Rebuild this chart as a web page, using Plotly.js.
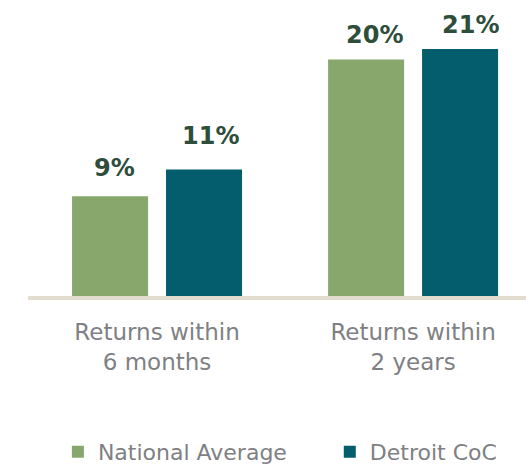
<!DOCTYPE html>
<html>
<head>
<meta charset="utf-8">
<script src="https://cdn.plot.ly/plotly-3.0.1.min.js"></script>
<style>html,body{margin:0;padding:0;background:#fff;}#chart{width:526px;height:465px;}</style>
</head>
<body>
<div id="chart"></div>
<script>
const categories = ["Returns within<br>6 months", "Returns within<br>2 years"];
const seriesNames = ["National Average", "Detroit CoC"];
const national = [8.6, 20.4];
const detroit = [10.9, 21.3];
const nationalLabels = ["9%", "20%"];
const detroitLabels = ["11%", "21%"];
const colors = ["#88A76C", "#035D6C"];

const traces = [
  {type: "bar", name: seriesNames[0], x: [0, 1], y: national, marker: {color: colors[0]}, hoverinfo: "none", legend: "legend"},
  {type: "bar", name: seriesNames[1], x: [0, 1], y: detroit, marker: {color: colors[1]}, hoverinfo: "none", legend: "legend2"}
];

const fam = "DejaVu Sans, sans-serif";
const labelFont = {family: fam, size: 24, color: "#2E4D3A", weight: 700};
const textFont = {family: fam, size: 22, color: "#7E8083"};
const slotPx = 47; // half of bar slot in pixels
// label placement tweaks (pixels) per category
const natShift = {x: [4.5, 8], y: [12, 8]};
const detShift = {x: [6.5, 10], y: [18, 8]};
const annotations = [];
national.forEach((v, i) => annotations.push({x: i, y: v, xref: "x", yref: "y", text: nationalLabels[i], showarrow: false, xanchor: "center", yanchor: "bottom", xshift: -slotPx + natShift.x[i], yshift: natShift.y[i], font: labelFont}));
detroit.forEach((v, i) => annotations.push({x: i, y: v, xref: "x", yref: "y", text: detroitLabels[i], showarrow: false, xanchor: "center", yanchor: "bottom", xshift: slotPx + detShift.x[i], yshift: detShift.y[i], font: labelFont}));

const legendBase = {orientation: "h", y: -0.545, yanchor: "middle", xanchor: "left", font: textFont, bgcolor: "rgba(0,0,0,0)"};

const layout = {
  width: 526, height: 465,
  margin: {l: 28, r: 0, t: 10, b: 169, autoexpand: false},
  paper_bgcolor: "#fff", plot_bgcolor: "#fff",
  barmode: "group", bargap: 0.266, bargroupgap: 0.191,
  showlegend: true,
  legend: Object.assign({}, legendBase, {x: 0.06}),
  legend2: Object.assign({}, legendBase, {x: 0.606}),
  xaxis: {type: "linear", range: [-0.504, 1.441], tickvals: [0, 1], ticktext: categories,
          showgrid: false, zeroline: false, showline: true, linecolor: "#E2DDD0", linewidth: 4,
          ticks: "", ticklabelstandoff: 12, automargin: false,
          tickfont: Object.assign({}, textFont, {size: 23})},
  yaxis: {range: [0, 24.66], visible: false, showgrid: false, zeroline: false, fixedrange: true},
  annotations: annotations
};

Plotly.newPlot("chart", traces, layout, {displayModeBar: false, staticPlot: true});
</script>
</body>
</html>
